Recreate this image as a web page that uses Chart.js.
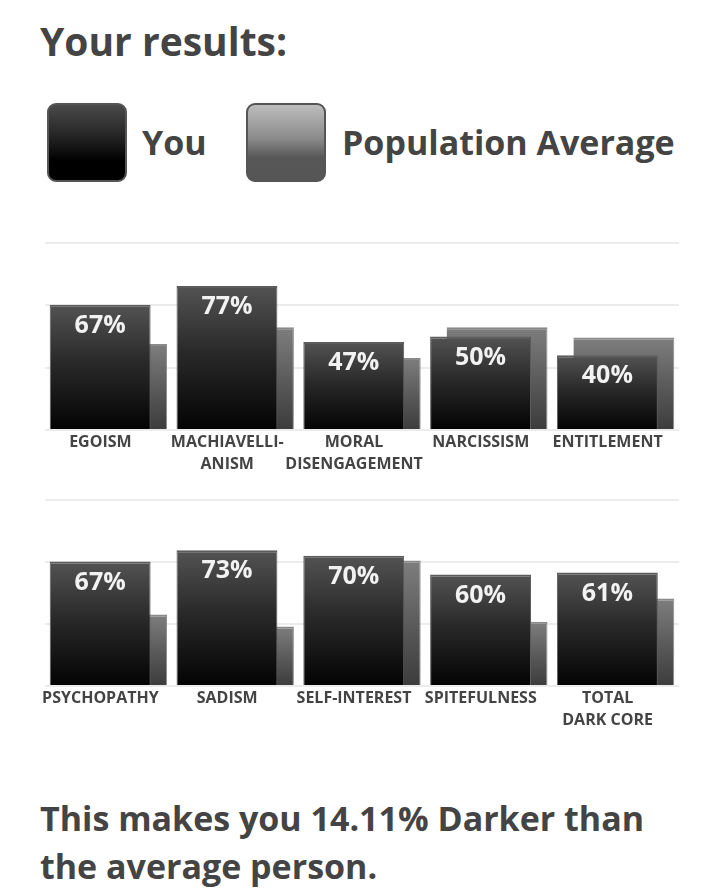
<!DOCTYPE html>
<html><head><meta charset="utf-8">
<script src="https://cdn.jsdelivr.net/npm/chart.js@4.4.0/dist/chart.umd.min.js"></script>
<style>
html,body{margin:0;padding:0;background:#fff;width:719px;height:892px;overflow:hidden;font-family:"Open Sans",sans-serif;color:#444;}
.txt{position:absolute;font-weight:700;white-space:nowrap;line-height:1;}
#title{left:40px;top:21px;font-size:39px;}
.sw{position:absolute;top:103px;width:80px;height:79px;border:2px solid #555;border-radius:9px;box-sizing:border-box;}
#swYou{left:47px;background:linear-gradient(#4a4a4a 0%,#262626 40%,#000 75%,#000 100%);}
#swAvg{left:246px;background:linear-gradient(#bdbdbd 0%,#8a8a8a 45%,#575757 70%,#555 100%);}
#lgYou{left:142px;top:125px;font-size:34px;}
#lgAvg{left:342px;top:125px;font-size:34px;}
#bottom{left:40px;top:794px;font-size:34px;line-height:48px;}
.panel{position:absolute;left:0;width:719px;height:250px;}
#p1{top:235px;}
#p2{top:492px;}
</style>
</head><body>
<div class="txt" id="title">Your results:</div>
<div class="sw" id="swYou"></div><div class="txt" id="lgYou">You</div>
<div class="sw" id="swAvg"></div><div class="txt" id="lgAvg">Population Average</div>
<div class="panel" id="p1"><canvas id="c1" width="719" height="250"></canvas></div>
<div class="panel" id="p2"><canvas id="c2" width="719" height="250"></canvas></div>
<div class="txt" id="bottom">This makes you 14.11% Darker than<br>the average person.</div>
<script>
const categories1 = ['EGOISM', ['MACHIAVELLI-', 'ANISM'], ['MORAL', 'DISENGAGEMENT'], 'NARCISSISM', 'ENTITLEMENT'];
const you1 = [67, 77, 47, 50, 40];
const avg1 = [46, 55, 38.5, 55, 49.5];

const categories2 = ['PSYCHOPATHY', 'SADISM', 'SELF-INTEREST', 'SPITEFULNESS', ['TOTAL', 'DARK CORE']];
const you2 = [67, 73, 70, 60, 61];
const avg2 = [38.5, 32, 67.5, 34.5, 47];

const seriesNames = ['You', 'Population Average'];
const yMin = 0, yMax = 100, yStep = 100 / 3;

function gradient(context, stops) {
  const chart = context.chart;
  if (!chart.chartArea || context.raw === undefined) return stops[stops.length - 1][1];
  const ys = chart.scales.y;
  const top = ys.getPixelForValue(context.raw);
  const bottom = ys.getPixelForValue(0);
  const g = chart.ctx.createLinearGradient(0, top, 0, bottom);
  stops.forEach(s => g.addColorStop(s[0], s[1]));
  return g;
}
const youStops = [[0, '#535353'], [0.45, '#2a2a2a'], [1, '#030303']];
const avgStops = [[0, '#7e7e7e'], [0.6, '#555555'], [1, '#3c3c3c']];

const valueLabels = {
  id: 'valueLabels',
  afterDatasetsDraw(chart) {
    const meta = chart.getDatasetMeta(0);
    const data = chart.data.datasets[0].data;
    const ctx = chart.ctx;
    ctx.save();
    ctx.font = '700 25px "Open Sans"';
    ctx.fillStyle = '#f2f2f2';
    ctx.textAlign = 'center';
    ctx.textBaseline = 'middle';
    meta.data.forEach((el, i) => {
      ctx.fillText(data[i] + '%', el.x, el.y + 21);
    });
    ctx.restore();
  }
};

function makeChart(id, labels, you, avg, axisHeight) {
  return new Chart(document.getElementById(id), {
    type: 'bar',
    data: {
      labels: labels,
      datasets: [
        {
          label: seriesNames[0], data: you,
          backgroundColor: c => gradient(c, youStops),
          borderColor: '#5c5c5c',
          borderWidth: {top: 2, left: 1, right: 1, bottom: 0},
          borderSkipped: false,
          categoryPercentage: 0.26, barPercentage: 6.12
        },
        {
          label: seriesNames[1], data: avg,
          backgroundColor: c => gradient(c, avgStops),
          borderColor: '#8a8a8a',
          borderWidth: {top: 2, left: 0, right: 1, bottom: 0},
          borderSkipped: false,
          categoryPercentage: 0.26, barPercentage: 6.12
        }
      ]
    },
    options: {
      responsive: false,
      animation: false,
      layout: {padding: {left: 45, right: 40, top: 8, bottom: 0}},
      plugins: {legend: {display: false}, tooltip: {enabled: false}},
      scales: {
        x: {
          grid: {display: false, drawTicks: false},
          border: {display: false},
          ticks: {
            color: '#444', padding: 1, maxRotation: 0, autoSkip: false, labelOffset: -8,
            font: {family: '"Open Sans"', size: 16, weight: '700', lineHeight: '22px'}
          },
          afterFit: s => { s.height = axisHeight; }
        },
        y: {
          min: yMin, max: yMax,
          ticks: {display: false, stepSize: yStep},
          grid: {color: '#ececec', lineWidth: 2, drawTicks: false},
          border: {display: false},
          afterFit: s => { s.width = 0; }
        }
      }
    },
    plugins: [valueLabels]
  });
}
makeChart('c1', categories1, you1, avg1, 55);
makeChart('c2', categories2, you2, avg2, 56);
</script>
</body></html>
